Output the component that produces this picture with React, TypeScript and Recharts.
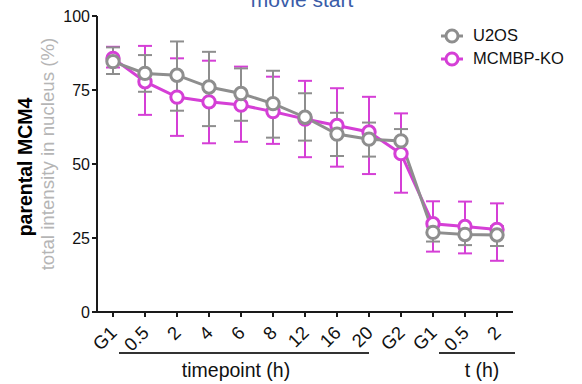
import React from "react"
import { LineChart, Line, XAxis, YAxis, ErrorBar, Legend } from "recharts"

const FONT = '"Liberation Sans", Arial, Helvetica, sans-serif'
const GRAY = "#8e8e8e"
const MAGENTA = "#d53fd6"

// x categories (duplicated names, so the axis runs on the index)
const labels = ["G1", "0.5", "2", "4", "6", "8", "12", "16", "20", "G2", "G1", "0.5", "2"]

// U2OS mean + error bounds
const u2os = [84.6, 80.6, 80.0, 76.0, 73.8, 70.4, 65.8, 60.1, 58.4, 57.8, 26.9, 26.2, 26.0]
const u2osHi = [89.4, 86.8, 91.4, 87.9, 82.3, 81.5, 73.9, 67.3, 64.0, 61.8, 30.2, 28.8, 29.0]
const u2osLo = [80.4, 74.4, 68.0, 62.8, 64.6, 58.9, 57.9, 52.7, 52.5, 53.5, 23.8, 22.6, 22.3]

// MCMBP-KO mean + error bounds
const mcmbp = [85.7, 77.8, 72.6, 71.0, 69.9, 67.7, 65.2, 63.0, 60.8, 53.5, 29.8, 28.9, 27.9]
const mcmbpHi = [89.6, 89.9, 85.7, 84.9, 82.9, 79.5, 78.1, 75.6, 72.7, 67.1, 37.4, 37.3, 36.7]
const mcmbpLo = [82.6, 66.6, 59.5, 57.0, 57.5, 56.8, 52.3, 49.1, 46.6, 40.3, 20.4, 19.8, 17.3]

const yTicks = [0, 25, 50, 75, 100]

const data = labels.map((_, i) => ({
  i,
  u2os: u2os[i],
  u2osErr: [u2os[i] - u2osLo[i], u2osHi[i] - u2os[i]],
  mcmbp: mcmbp[i],
  mcmbpErr: [mcmbp[i] - mcmbpLo[i], mcmbpHi[i] - mcmbp[i]],
}))

const legendItems = [
  { name: "U2OS", color: GRAY },
  { name: "MCMBP-KO", color: MAGENTA },
]

// eslint-disable-next-line @typescript-eslint/no-explicit-any
function XTick({ x, y, payload }: any) {
  // text end sits just right of the tick, rotated 45deg up
  const ax = x + 5
  const ay = y + 15
  return (
    <text
      x={ax}
      y={ay}
      transform={`rotate(-45, ${ax}, ${ay})`}
      textAnchor="end"
      fontSize={18.5}
      fontFamily={FONT}
      fill="#111"
    >
      {labels[payload.value]}
    </text>
  )
}

function LegendBox() {
  return (
    <div style={{ fontFamily: FONT, fontSize: 16.5, color: "#111" }}>
      {legendItems.map((it) => (
        <div key={it.name} style={{ display: "flex", alignItems: "center", height: 23 }}>
          <svg width={24} height={18}>
            <line x1={1} x2={23} y1={9} y2={9} stroke={it.color} strokeWidth={3} />
            <circle cx={12} cy={9} r={6} fill="#fff" stroke={it.color} strokeWidth={3} />
          </svg>
          <span style={{ marginLeft: 9 }}>{it.name}</span>
        </div>
      ))}
    </div>
  )
}

export default function App() {
  return (
    <div style={{ position: "absolute", left: 0, top: 0, width: 582, height: 384, background: "#fff" }}>
      <LineChart width={582} height={384} data={data} margin={{ top: 16, right: 69, bottom: 32, left: 37 }}>
        <XAxis
          dataKey="i"
          type="number"
          domain={[-0.5, 12.5]}
          ticks={labels.map((_, i) => i)}
          interval={0}
          height={40}
          tick={<XTick />}
          tickSize={5}
          axisLine={{ stroke: "#1a1a1a", strokeWidth: 2 }}
          tickLine={{ stroke: "#1a1a1a", strokeWidth: 2 }}
        />
        <YAxis
          domain={[0, 100]}
          ticks={yTicks}
          width={60}
          tickSize={5}
          tick={{ fontSize: 16, fill: "#111", fontFamily: FONT }}
          axisLine={{ stroke: "#1a1a1a", strokeWidth: 2 }}
          tickLine={{ stroke: "#1a1a1a", strokeWidth: 2 }}
        />
        <Legend
          layout="vertical"
          align="center"
          verticalAlign="middle"
          wrapperStyle={{ left: 440, top: 24, width: 140 }}
          content={<LegendBox />}
        />
        <Line
          dataKey="mcmbp"
          stroke={MAGENTA}
          strokeWidth={3}
          dot={{ r: 6.2, fill: "#fff", stroke: MAGENTA, strokeWidth: 3 }}
          isAnimationActive={false}
        >
          <ErrorBar dataKey="mcmbpErr" stroke={MAGENTA} strokeWidth={2} width={7} />
        </Line>
        <Line
          dataKey="u2os"
          stroke={GRAY}
          strokeWidth={3}
          dot={{ r: 6.2, fill: "#fff", stroke: GRAY, strokeWidth: 3 }}
          isAnimationActive={false}
        >
          <ErrorBar dataKey="u2osErr" stroke={GRAY} strokeWidth={2} width={7} />
        </Line>
      </LineChart>
      <svg width={582} height={384} style={{ position: "absolute", left: 0, top: 0, pointerEvents: "none" }}>
        <text x={302} y={7} textAnchor="middle" fontSize={21} fontFamily={FONT} fill="#3a5ca8">
          movie start
        </text>
        <text
          x={32}
          y={167}
          transform="rotate(-90, 32, 167)"
          textAnchor="middle"
          fontSize={19.5}
          fontWeight="bold"
          fontFamily={FONT}
          fill="#000"
        >
          parental MCM4
        </text>
        <text
          x={54}
          y={154}
          transform="rotate(-90, 54, 154)"
          textAnchor="middle"
          fontSize={18.7}
          fontFamily={FONT}
          fill="#b5b5b5"
        >
          total intensity in nucleus (%)
        </text>
        <line x1={119} x2={369} y1={353} y2={353} stroke="#333" strokeWidth={2} />
        <line x1={439} x2={515} y1={353} y2={353} stroke="#333" strokeWidth={2} />
        <text x={236} y={377} textAnchor="middle" fontSize={19.5} fontFamily={FONT} fill="#111">
          timepoint (h)
        </text>
        <text x={482} y={377} textAnchor="middle" fontSize={19.5} fontFamily={FONT} fill="#111">
          t (h)
        </text>
      </svg>
    </div>
  )
}
